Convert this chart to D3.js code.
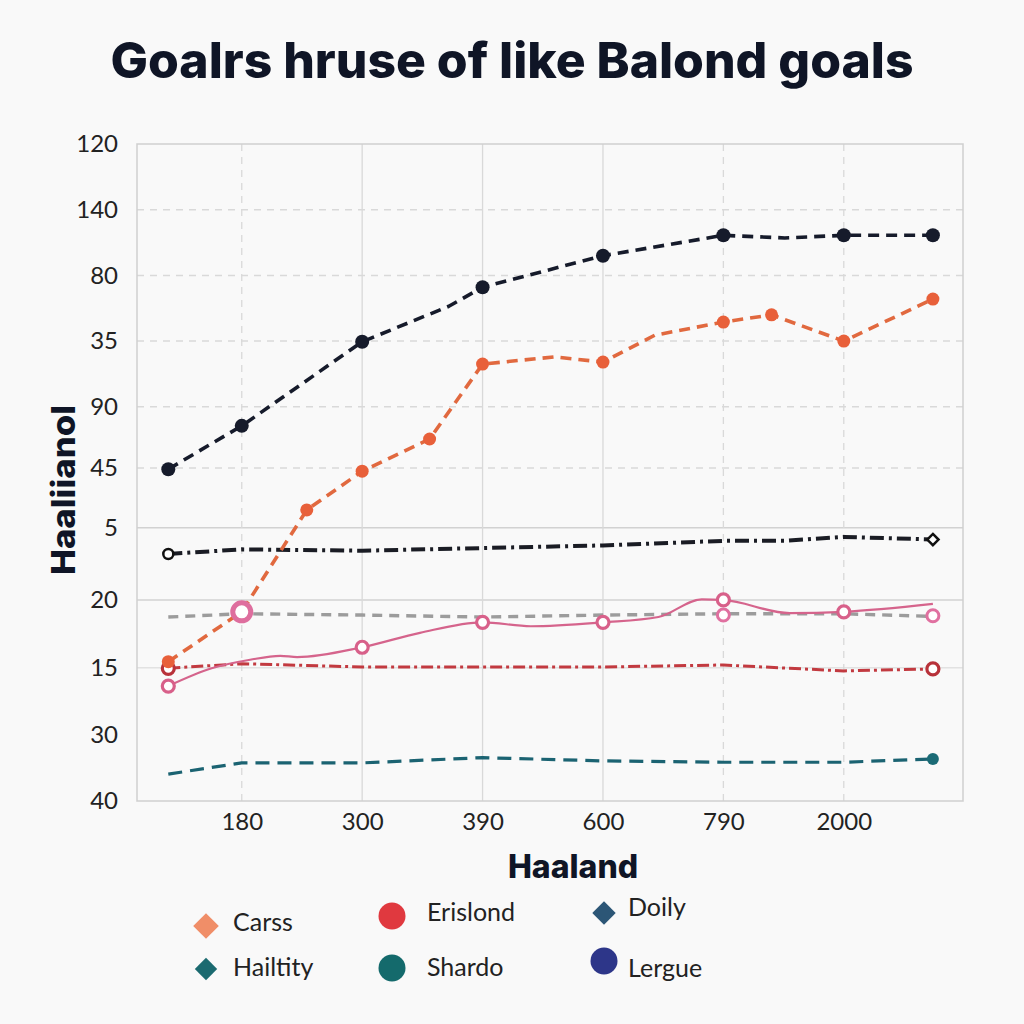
<!DOCTYPE html>
<html>
<head>
<meta charset="utf-8">
<script src="https://cdn.jsdelivr.net/npm/d3@7"></script>
<style>
  html, body { margin: 0; padding: 0; background: #f9f9f9; }
  svg { display: block; }
</style>
</head>
<body>
<svg id="chart" width="1024" height="1024"></svg>
<script>
// ---------- DATA ----------
const titleText = "Goalrs hruse of like Balond goals";
const xAxisTitle = "Haaland";
const yAxisTitle = "Haaliianol";

const xTickLabels = ["180", "300", "390", "600", "790", "2000"];
const xTickAt = [0, 1, 2, 3, 4, 5];
const yTickLabels = ["120", "140", "80", "35", "90", "45", "5", "20", "15", "30", "40"];
const yTickAt = [10, 9, 8, 7, 6, 5.07, 4.16, 3.06, 2.03, 1, 0];

// series: [x position (tick index units), value (axis units)]
const blackTop = [[-0.61, 5.05], [0, 5.71], [1, 6.99], [1.72, 7.53], [2, 7.82], [3, 8.30], [4, 8.61], [4.51, 8.57], [5, 8.61], [5.74, 8.61]];
const blackTopMarks = [[-0.61, 5.05], [0, 5.71], [1, 6.99], [2, 7.82], [3, 8.30], [4, 8.61], [5, 8.61], [5.74, 8.61]];

const orange = [[-0.61, 2.12], [0, 2.88], [0.54, 4.43], [1, 5.02], [1.56, 5.51], [2, 6.65], [2.60, 6.76], [3, 6.68], [3.43, 7.09], [4, 7.29], [4.40, 7.40], [5, 7.00], [5.74, 7.64]];
const orangeMarks = [[-0.61, 2.12], [0.54, 4.43], [1, 5.02], [1.56, 5.51], [2, 6.65], [3, 6.68], [4, 7.29], [4.40, 7.40], [5, 7.00], [5.74, 7.64]];

const blackDashDot = [[-0.61, 3.76], [0, 3.83], [1, 3.81], [2, 3.85], [3, 3.89], [4, 3.96], [4.51, 3.96], [5, 4.02], [5.74, 3.98]];

const gray = [[-0.61, 2.80], [0, 2.85], [1, 2.83], [2, 2.80], [3, 2.83], [4, 2.85], [5, 2.85], [5.74, 2.81]];

const pink = [[-0.61, 1.75], [-0.25, 2.02], [0.07, 2.15], [0.32, 2.21], [0.46, 2.19], [1, 2.34], [1.48, 2.56], [2, 2.72], [2.40, 2.66], [3, 2.72], [3.46, 2.80], [3.82, 3.07], [4, 3.06], [4.55, 2.86], [5, 2.88], [5.74, 3.00]];
const pinkMarks = [[-0.61, 1.75], [1, 2.34], [2, 2.72], [3, 2.72], [4, 3.06], [5, 2.88]];
const pinkExtraMarks = [[0, 2.88], [4, 2.83], [5.74, 2.82]];

const red = [[-0.61, 2.02], [0, 2.09], [1, 2.04], [2, 2.04], [3, 2.04], [4, 2.07], [5, 1.98], [5.74, 2.01]];
const redMarks = [[-0.61, 2.02], [5.74, 2.01]];

const teal = [[-0.61, 0.41], [0, 0.58], [1, 0.58], [2, 0.66], [3, 0.61], [4, 0.59], [5, 0.59], [5.74, 0.64]];
const tealMarks = [[5.74, 0.64]];

const legendNames = ["Carss", "Erislond", "Doily", "Hailtity", "Shardo", "Lergue"];
const legendShapes = ["diamond", "circle", "diamond", "diamond", "circle", "circle"];
const legendColors = ["#f08e68", "#e0393f", "#2c5676", "#1b6a70", "#146a6c", "#2d3689"];

// ---------- LAYOUT ----------
const svg = d3.select("#chart");
const plot = { left: 137, right: 963, top: 144, bottom: 801 };
const x = d3.scaleLinear().domain([-0.87, 5.99]).range([plot.left, plot.right]);
const y = d3.scaleLinear().domain([0, 10]).range([plot.bottom, plot.top]);

svg.append("rect").attr("width", 1024).attr("height", 1024).attr("fill", "#f9f9f9");

// title
svg.append("text")
  .attr("x", 512).attr("y", 78)
  .attr("text-anchor", "middle")
  .attr("font-family", "Inter, 'Noto Sans', sans-serif")
  .attr("font-weight", 800)
  .attr("font-size", 49)
  .attr("fill", "#0f1526")
  .attr("textLength", 803)
  .attr("lengthAdjust", "spacingAndGlyphs")
  .text(titleText);

// grid
const hGridStyle = [null, "dash", "dash", "dash", "dash", "dash", "solid", "solid", "solidLight", null, null];
const vGridStyle = ["dash", "solid", "solid", "solid", "dash", "dash"];
const g = svg.append("g");
yTickAt.forEach((v, i) => {
  const s = hGridStyle[i];
  if (!s) return;
  g.append("line")
    .attr("x1", plot.left).attr("x2", plot.right)
    .attr("y1", y(v)).attr("y2", y(v))
    .attr("stroke", s === "dash" ? "#d9d9d9" : (s === "solid" ? "#d2d2d2" : "#e2e2e2"))
    .attr("stroke-width", 1.5)
    .attr("stroke-dasharray", s === "dash" ? "7,6" : null);
});
xTickAt.forEach((v, i) => {
  const s = vGridStyle[i];
  g.append("line")
    .attr("x1", x(v)).attr("x2", x(v))
    .attr("y1", plot.top).attr("y2", plot.bottom)
    .attr("stroke", "#d9d9d9")
    .attr("stroke-width", 1.3)
    .attr("stroke-dasharray", s === "dash" ? "7,6" : null);
});
// frame
svg.append("rect")
  .attr("x", plot.left).attr("y", plot.top)
  .attr("width", plot.right - plot.left).attr("height", plot.bottom - plot.top)
  .attr("fill", "none").attr("stroke", "#cfcfcf").attr("stroke-width", 1.5);

// axes (labels via d3 axes)
const yAxis = d3.axisLeft(y).tickValues(yTickAt).tickSize(0).tickPadding(19)
  .tickFormat((d, i) => yTickLabels[i]);
const yg = svg.append("g").attr("transform", `translate(${plot.left},0)`).call(yAxis);
yg.select(".domain").remove();
yg.selectAll("text").attr("font-family", "Lato, 'Open Sans', sans-serif").attr("font-size", 24).attr("fill", "#222");

const xAxis = d3.axisBottom(x).tickValues(xTickAt).tickSize(0).tickPadding(12)
  .tickFormat((d, i) => xTickLabels[i]);
const xg = svg.append("g").attr("transform", `translate(0,${plot.bottom})`).call(xAxis);
xg.select(".domain").remove();
xg.selectAll("text").attr("font-family", "Lato, 'Open Sans', sans-serif").attr("font-size", 24).attr("fill", "#222");

// axis titles
svg.append("text")
  .attr("x", 573).attr("y", 878)
  .attr("text-anchor", "middle")
  .attr("font-family", "Inter, 'Noto Sans', sans-serif")
  .attr("font-weight", 800).attr("font-size", 32).attr("fill", "#0f1526")
  .text(xAxisTitle);
svg.append("text")
  .attr("transform", "translate(75,490) rotate(-90)")
  .attr("text-anchor", "middle")
  .attr("font-family", "Inter, 'Noto Sans', sans-serif")
  .attr("font-weight", 800).attr("font-size", 33).attr("fill", "#0f1526")
  .attr("textLength", 170)
  .attr("lengthAdjust", "spacingAndGlyphs")
  .text(yAxisTitle);

// ---------- LINES ----------
const line = d3.line().x(d => x(d[0])).y(d => y(d[1]));
const lg = svg.append("g").attr("fill", "none");

function drawLine(data, color, width, dash, curve) {
  lg.append("path")
    .datum(data)
    .attr("d", curve ? d3.line().x(d => x(d[0])).y(d => y(d[1])).curve(curve) : line)
    .attr("stroke", color)
    .attr("stroke-width", width)
    .attr("stroke-dasharray", dash)
    .attr("stroke-linejoin", "round");
}
function drawDots(data, r, fill, stroke, sw) {
  svg.append("g").selectAll("circle").data(data).join("circle")
    .attr("cx", d => x(d[0])).attr("cy", d => y(d[1]))
    .attr("r", r).attr("fill", fill)
    .attr("stroke", stroke || "none").attr("stroke-width", sw || 0);
}

drawLine(teal, "#1b6372", 3.2, "14,8");
drawLine(gray, "#9c9c9c", 3.4, "10,7");
drawLine(red, "#c23a40", 3, "12,4,3,4");
drawLine(pink, "#d5648c", 2.2, null, d3.curveMonotoneX);
drawLine(blackDashDot, "#1a1c24", 4, "14,5,3,5");
drawLine(orange, "#e1693f", 3.6, "11,7");
drawLine(blackTop, "#161b2b", 3.6, "11,7");

drawDots(tealMarks, 6, "#1b6b76");
drawDots(redMarks, 6, "#fff", "#b8323a", 3.2);
drawDots(pinkMarks, 6, "#fff", "#d8608a", 3.2);
drawDots(pinkExtraMarks, 6, "#fff", "#e070a0", 3);
drawDots([pinkExtraMarks[0]], 9, "#fff", "#de6e9e", 5);
drawDots(orangeMarks, 6.5, "#e8603a");
drawDots(blackTopMarks, 7, "#161b2b");
drawDots([blackDashDot[0]], 5, "#fff", "#111", 2.5);
svg.append("path")
  .attr("d", d3.symbol(d3.symbolDiamond2 || d3.symbolSquare, 80)())
  .attr("transform", `translate(${x(blackDashDot[blackDashDot.length - 1][0])},${y(blackDashDot[blackDashDot.length - 1][1])})`)
  .attr("fill", "#fff").attr("stroke", "#111").attr("stroke-width", 2.5);

// ---------- LEGEND ----------
const legendX = [206, 392, 604];
const legendRowY = [[926, 916, 913], [969, 968, 961]];
const legendTextY = [[931, 921, 916], [976, 976, 977]];
const lgd = svg.append("g");
legendNames.forEach((name, i) => {
  const col = i % 3, row = Math.floor(i / 3);
  const cx = legendX[col], cy = legendRowY[row][col];
  if (legendShapes[i] === "diamond") {
    const size = (row === 0 && col === 0) ? 420 : (col === 2 ? 350 : 320);
    lgd.append("path")
      .attr("d", d3.symbol(d3.symbolDiamond2 || d3.symbolDiamond, size)())
      .attr("transform", `translate(${cx},${cy})`)
      .attr("fill", legendColors[i]);
  } else {
    lgd.append("circle").attr("cx", cx).attr("cy", cy).attr("r", 13.5).attr("fill", legendColors[i]);
  }
  lgd.append("text")
    .attr("x", cx + (col === 2 ? 24 : (col === 1 ? 35 : 27)))
    .attr("y", legendTextY[row][col])
    .attr("font-family", "Lato, 'Open Sans', sans-serif")
    .attr("font-size", 25).attr("fill", "#222")
    .text(name);
});
</script>
</body>
</html>
